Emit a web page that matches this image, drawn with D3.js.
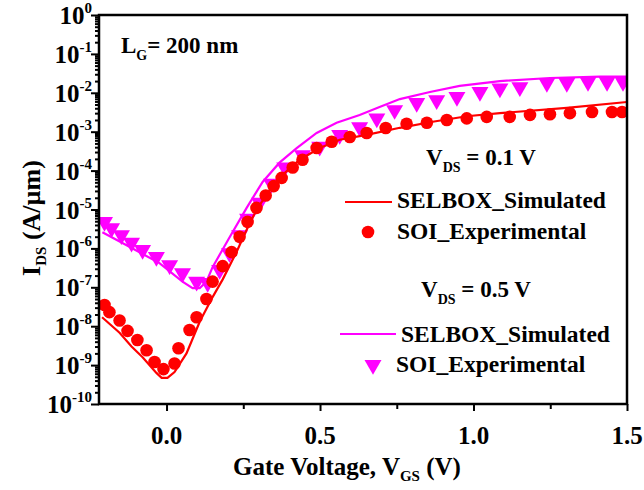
<!DOCTYPE html>
<html>
<head>
<meta charset="utf-8">
<script src="https://cdn.jsdelivr.net/npm/d3@7"></script>
<style>
  html, body { margin: 0; padding: 0; background: #fff; }
  svg text { font-family: "Liberation Serif", "Times New Roman", serif; font-weight: bold; fill: #000; }
</style>
</head>
<body>
<svg id="chart" width="644" height="490"></svg>
<script>
// Transfer characteristics, L_G = 200 nm
// V_DS = 0.1 V : simulated SELBOX curve
const simLowV = [-0.21, -0.153, -0.114, -0.078, -0.033, -0.016, 0.003, 0.026, 0.065, 0.108, 0.15, 0.183, 0.228, 0.261, 0.293, 0.336, 0.378, 0.434, 0.499, 0.564, 0.652, 0.76, 0.867, 0.978, 1.086, 1.304, 1.5];
const simLowI = [1.7e-8, 6.8e-9, 3.0e-9, 1.6e-9, 6.3e-10, 4.7e-10, 4.7e-10, 6.6e-10, 2.0e-9, 1.3e-8, 5.6e-8, 1.6e-7, 8.1e-7, 3.0e-6, 9.8e-6, 3.2e-5, 7.8e-5, 1.9e-4, 3.8e-4, 6.2e-4, 8.3e-4, 1.26e-3, 1.8e-3, 2.5e-3, 3.0e-3, 4.1e-3, 5.8e-3];

// V_DS = 0.1 V : measured SOI device
const expLowV = [-0.202, -0.186, -0.153, -0.127, -0.095, -0.065, -0.039, -0.010, 0.026, 0.039, 0.075, 0.098, 0.130, 0.150, 0.183, 0.212, 0.238, 0.264, 0.293, 0.323, 0.349, 0.375, 0.411, 0.443, 0.489, 0.538, 0.597, 0.652, 0.714, 0.782, 0.848, 0.913, 0.978, 1.043, 1.118, 1.184, 1.249, 1.314, 1.386, 1.451, 1.484];
const expLowI = [3.5e-8, 2.3e-8, 1.4e-8, 7.6e-9, 4.4e-9, 2.4e-9, 1.2e-9, 7.9e-10, 1.1e-9, 2.7e-9, 8.0e-9, 1.7e-8, 5.0e-8, 1.4e-7, 3.5e-7, 8.0e-7, 2.0e-6, 4.8e-6, 1.1e-5, 2.3e-5, 4.0e-5, 6.5e-5, 1.2e-4, 1.9e-4, 3.8e-4, 5.5e-4, 7.3e-4, 9.3e-4, 1.25e-3, 1.6e-3, 1.7e-3, 2.0e-3, 2.2e-3, 2.4e-3, 2.4e-3, 2.7e-3, 2.8e-3, 3.0e-3, 3.2e-3, 3.2e-3, 3.2e-3];

// V_DS = 0.5 V : simulated SELBOX curve
const simHighV = [-0.209, -0.130, -0.023, 0.052, 0.085, 0.108, 0.130, 0.150, 0.205, 0.261, 0.313, 0.368, 0.424, 0.489, 0.554, 0.629, 0.694, 0.760, 0.858, 0.955, 1.086, 1.249, 1.412, 1.5];
const simHighI = [2.6e-6, 1.2e-6, 4.2e-7, 1.4e-7, 9.5e-8, 9.5e-8, 1.4e-7, 3.3e-7, 1.9e-6, 1.1e-5, 5.1e-5, 1.6e-4, 3.8e-4, 9.3e-4, 1.7e-3, 2.7e-3, 4.3e-3, 6.9e-3, 1.05e-2, 1.5e-2, 2.0e-2, 2.4e-2, 2.6e-2, 2.6e-2];

// V_DS = 0.5 V : measured SOI device
const expHighV = [-0.202, -0.179, -0.147, -0.114, -0.078, -0.033, 0.010, 0.052, 0.098, 0.134, 0.173, 0.205, 0.238, 0.264, 0.303, 0.342, 0.385, 0.443, 0.499, 0.564, 0.629, 0.685, 0.743, 0.815, 0.880, 0.946, 1.021, 1.086, 1.151, 1.239, 1.304, 1.373, 1.435, 1.487];
const expHighI = [4.8e-6, 3.3e-6, 2.2e-6, 1.4e-6, 9.1e-7, 6.0e-7, 3.7e-7, 2.3e-7, 1.4e-7, 1.3e-7, 2.8e-7, 7.6e-7, 2.2e-6, 5.8e-6, 1.5e-5, 4.6e-5, 1.2e-4, 2.5e-4, 4.1e-4, 8.3e-4, 1.3e-3, 2.2e-3, 3.6e-3, 5.5e-3, 6.5e-3, 7.8e-3, 1.05e-2, 1.3e-2, 1.4e-2, 1.8e-2, 1.8e-2, 1.9e-2, 1.9e-2, 1.9e-2];

// Axis ticks
const xMajorTicks = [0, 0.5, 1.0, 1.5];
const xMinorTicks = [0.25, 0.75, 1.25];
const xTickLabels = ["0.0", "0.5", "1.0", "1.5"];
const yExponents = [0, -1, -2, -3, -4, -5, -6, -7, -8, -9, -10];
const yTickLabels = ["0", "-1", "-2", "-3", "-4", "-5", "-6", "-7", "-8", "-9", "-10"];

const RED = "#ff0000";
const MAGENTA = "#ff00ff";

const svg = d3.select("#chart");
const plotLeft = 99, plotRight = 627, plotTop = 15, plotBottom = 404;

const x = d3.scaleLinear().domain([-0.22, 1.5]).range([plotLeft, plotRight]);
const y = d3.scaleLog().domain([1e-10, 1]).range([plotBottom, plotTop]);

const zip = (vs, is) => vs.map((v, i) => ({ v, i: is[i] }));

svg.append("defs").append("clipPath").attr("id", "plot-clip")
  .append("rect").attr("x", plotLeft).attr("y", plotTop)
  .attr("width", plotRight - plotLeft).attr("height", plotBottom - plotTop);

const plot = svg.append("g").attr("clip-path", "url(#plot-clip)");

const line = d3.line().x(d => x(d.v)).y(d => y(d.i));

// V_DS = 0.5 V series
plot.append("path").datum(zip(simHighV, simHighI))
  .attr("d", line).attr("fill", "none").attr("stroke", MAGENTA).attr("stroke-width", 2.2);

const tri = d3.symbol().type(d3.symbolTriangle).size(125);
plot.append("g").selectAll("path").data(zip(expHighV, expHighI)).join("path")
  .attr("d", tri)
  .attr("transform", d => `translate(${x(d.v)},${y(d.i)}) rotate(180)`)
  .attr("fill", MAGENTA);

// V_DS = 0.1 V series
plot.append("path").datum(zip(simLowV, simLowI))
  .attr("d", line).attr("fill", "none").attr("stroke", RED).attr("stroke-width", 2.2);

plot.append("g").selectAll("circle").data(zip(expLowV, expLowI)).join("circle")
  .attr("cx", d => x(d.v)).attr("cy", d => y(d.i)).attr("r", 6.3)
  .attr("fill", RED);

// Axes
const xAxis = svg.append("g").attr("transform", `translate(0,${plotBottom})`)
  .call(d3.axisBottom(x).tickValues(xMajorTicks).tickSize(7).tickFormat(""));
const xAxisMinor = svg.append("g").attr("transform", `translate(0,${plotBottom})`)
  .call(d3.axisBottom(x).tickValues(xMinorTicks).tickSize(5).tickFormat(""));

const yMinorValues = [];
yExponents.slice(1).forEach(e => {
  for (let m = 2; m <= 9; m++) yMinorValues.push(m * Math.pow(10, e));
});
const yAxis = svg.append("g").attr("transform", `translate(${plotLeft},0)`)
  .call(d3.axisLeft(y).tickValues(yExponents.map(e => Math.pow(10, e))).tickSize(8).tickFormat(""));
const yAxisMinor = svg.append("g").attr("transform", `translate(${plotLeft},0)`)
  .call(d3.axisLeft(y).tickValues(yMinorValues).tickSize(4).tickFormat(""));

[xAxis, xAxisMinor, yAxis, yAxisMinor].forEach(g => {
  g.select(".domain").remove();
  g.selectAll(".tick line").attr("stroke", "#000").attr("stroke-width", 2);
});

// Frame
svg.append("rect").attr("x", plotLeft).attr("y", plotTop)
  .attr("width", plotRight - plotLeft).attr("height", plotBottom - plotTop)
  .attr("fill", "none").attr("stroke", "#000").attr("stroke-width", 2.5);

// X tick labels
svg.append("g").selectAll("text").data(xMajorTicks).join("text")
  .attr("x", d => x(d)).attr("y", 444)
  .attr("text-anchor", "middle").attr("font-size", 25)
  .text((d, i) => xTickLabels[i]);

// Y tick labels (powers of ten)
const yl = svg.append("g").selectAll("text").data(yExponents).join("text")
  .attr("x", 92).attr("y", d => y(Math.pow(10, d)) + 9)
  .attr("text-anchor", "end").attr("font-size", 25);
yl.append("tspan").text("10");
yl.append("tspan").attr("dy", -11).attr("font-size", 15).text((d, i) => yTickLabels[i]);

// Axis titles
const xt = svg.append("text").attr("x", 347).attr("y", 475)
  .attr("text-anchor", "middle").attr("font-size", 25);
xt.append("tspan").text("Gate Voltage, V");
xt.append("tspan").attr("dy", 6).attr("font-size", 15).text("GS");
xt.append("tspan").attr("dy", -6).text(" (V)");

const yt = svg.append("text").attr("transform", "translate(40,218) rotate(-90)")
  .attr("text-anchor", "middle").attr("font-size", 26);
yt.append("tspan").text("I");
yt.append("tspan").attr("dy", 6).attr("font-size", 15).text("DS");
yt.append("tspan").attr("dy", -6).text(" (A/\u00b5m)");

// Gate length note
const lg = svg.append("text").attr("x", 121).attr("y", 53).attr("font-size", 23);
lg.append("tspan").text("L");
lg.append("tspan").attr("dy", 7).attr("font-size", 14).text("G");
lg.append("tspan").attr("dy", -7).text("= 200 nm");

// Legend
function vdsLabel(xp, yp, value) {
  const t = svg.append("text").attr("x", xp).attr("y", yp).attr("font-size", 23);
  t.append("tspan").text("V");
  t.append("tspan").attr("dy", 7).attr("font-size", 14).text("DS");
  t.append("tspan").attr("dy", -7).text(` = ${value} V`);
}
vdsLabel(426, 165, "0.1");
svg.append("line").attr("x1", 345).attr("x2", 392).attr("y1", 202).attr("y2", 202)
  .attr("stroke", RED).attr("stroke-width", 2.2);
svg.append("text").attr("x", 397).attr("y", 208).attr("font-size", 23.5).text("SELBOX_Simulated");
svg.append("circle").attr("cx", 368).attr("cy", 232).attr("r", 6.3).attr("fill", RED);
svg.append("text").attr("x", 397).attr("y", 239).attr("font-size", 23.5).text("SOI_Experimental");

vdsLabel(421, 297, "0.5");
svg.append("line").attr("x1", 340).attr("x2", 396).attr("y1", 334).attr("y2", 334)
  .attr("stroke", MAGENTA).attr("stroke-width", 2.2);
svg.append("text").attr("x", 401).attr("y", 342).attr("font-size", 23.5).text("SELBOX_Simulated");
svg.append("path").attr("d", tri).attr("transform", "translate(373,365) rotate(180)").attr("fill", MAGENTA);
svg.append("text").attr("x", 396).attr("y", 372).attr("font-size", 23.5).text("SOI_Experimental");
</script>
</body>
</html>
